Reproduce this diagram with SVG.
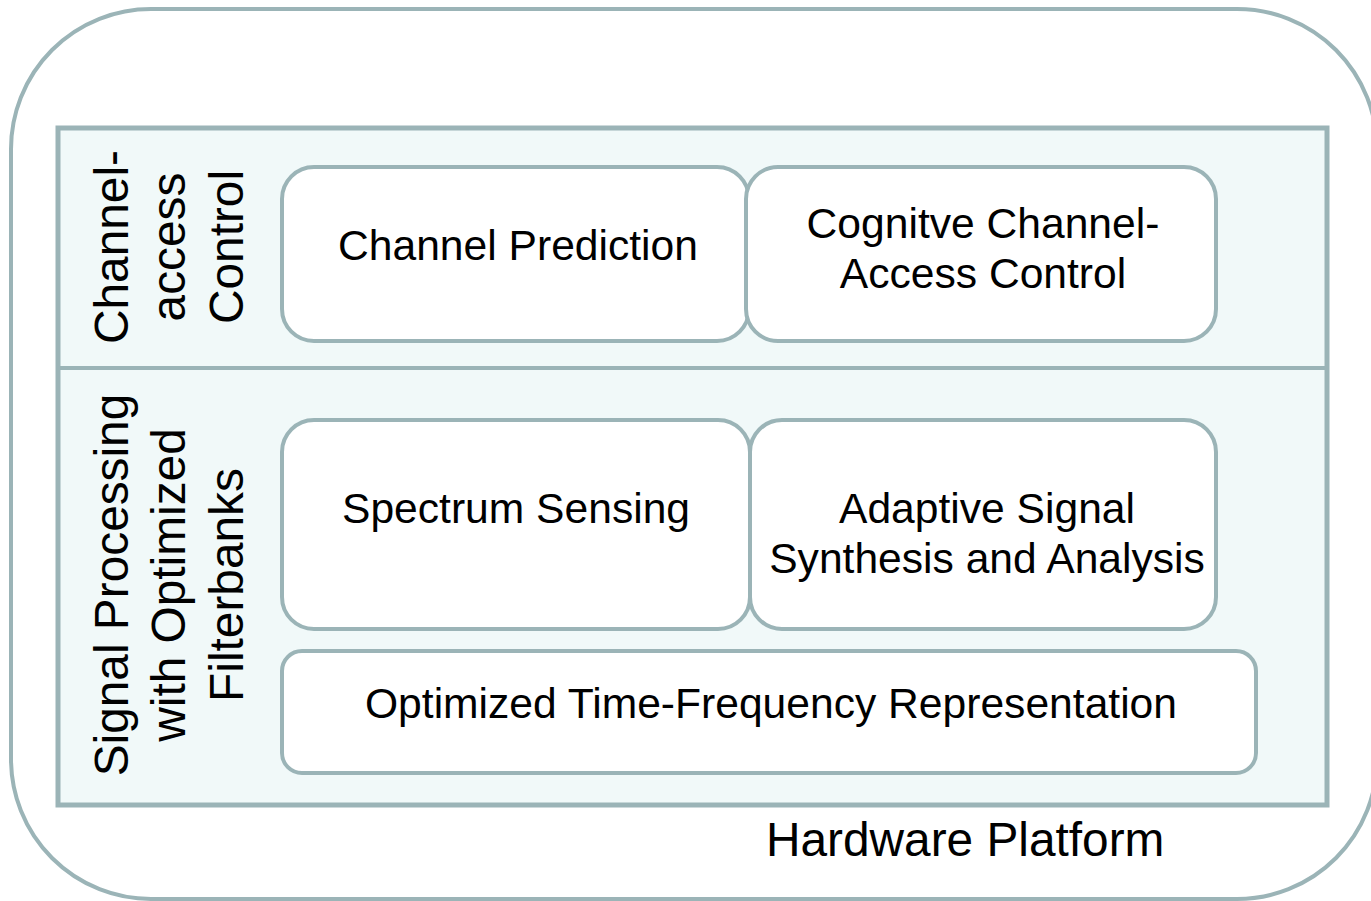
<svg xmlns="http://www.w3.org/2000/svg" width="1371" height="901" viewBox="0 0 1371 901">
<style>
.st{stroke:#9bb4b7;}
.box{fill:#ffffff;stroke:#9bb4b7;stroke-width:4;}
.t{font-family:"Liberation Sans",Arial,sans-serif;fill:#000;}
.in{font-size:42.6px;text-anchor:middle;}
.lab{font-size:47.8px;text-anchor:middle;}
</style>
<rect width="1371" height="901" fill="#ffffff"/>
<g id="hardware-platform">
<rect x="11" y="9" width="1366" height="890" rx="140" ry="140" fill="#ffffff" class="st" stroke-width="4"/>
<text class="t" x="766" y="856" font-size="47.8">Hardware Platform</text>
</g>
<g id="layers">
<rect x="58" y="128" width="1269" height="677" fill="#f1f9f9" class="st" stroke-width="5"/>
<line x1="58" y1="368" x2="1327" y2="368" class="st" stroke-width="4"/>
</g>
<g id="channel-access-label">
<text class="t lab" transform="translate(128,247) rotate(-90)"><tspan x="0" y="0">Channel-</tspan><tspan x="0" dy="57">access</tspan><tspan x="0" dy="58">Control</tspan></text>
</g>
<g id="signal-processing-label">
<text class="t lab" transform="translate(128,585) rotate(-90)"><tspan x="0" y="0">Signal Processing</tspan><tspan x="0" dy="57">with Optimized</tspan><tspan x="0" dy="58">Filterbanks</tspan></text>
</g>
<g id="channel-prediction">
<rect class="box" x="282" y="167" width="467" height="174" rx="32"/>
<text class="t in" x="518" y="260">Channel Prediction</text>
</g>
<g id="cognitive-channel-access">
<rect class="box" x="746" y="167" width="470" height="174" rx="32"/>
<text class="t in" x="983" y="238"><tspan x="983">Cognitve Channel-</tspan><tspan x="983" dy="50">Access Control</tspan></text>
</g>
<g id="spectrum-sensing">
<rect class="box" x="282" y="420" width="468" height="209" rx="32"/>
<text class="t in" x="516" y="523">Spectrum Sensing</text>
</g>
<g id="adaptive-signal">
<rect class="box" x="750" y="420" width="466" height="209" rx="32"/>
<text class="t in" x="987" y="523"><tspan x="987">Adaptive Signal</tspan><tspan x="987" dy="50">Synthesis and Analysis</tspan></text>
</g>
<g id="time-frequency">
<rect class="box" x="282" y="651" width="974" height="122" rx="20"/>
<text class="t in" x="771" y="718">Optimized Time-Frequency Representation</text>
</g>
<g id="connectors"></g>
</svg>
